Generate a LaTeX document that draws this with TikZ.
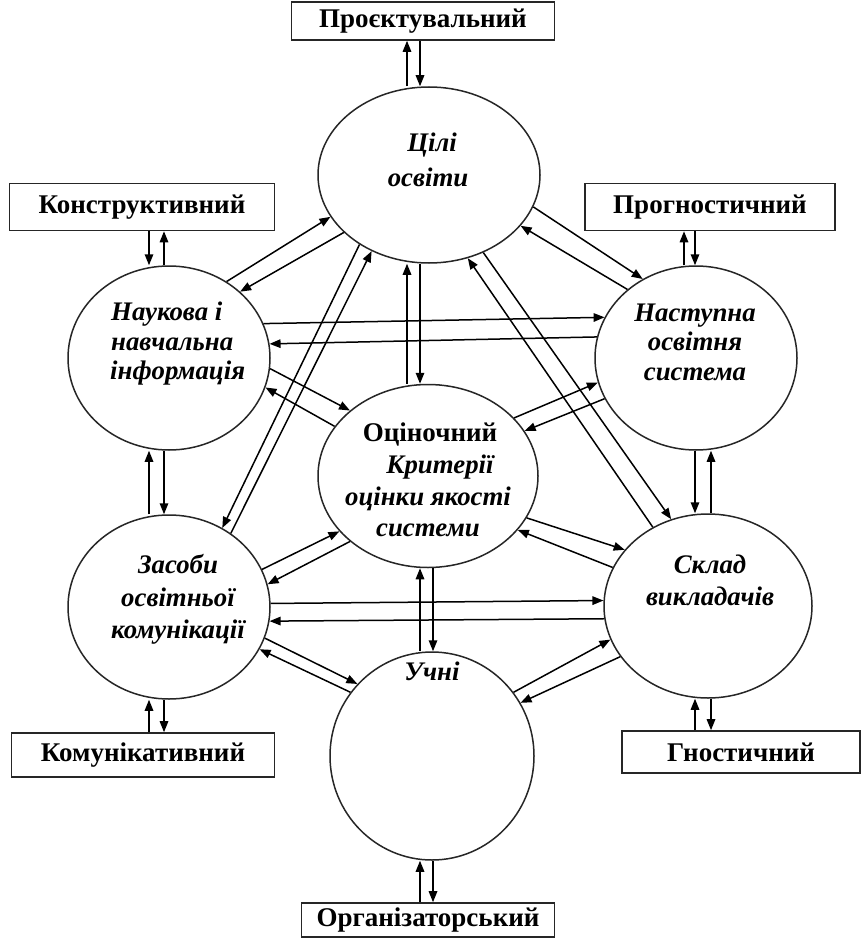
\documentclass[tikz,border=0pt]{standalone}
\usepackage{fontspec}
\setmainfont{Liberation Serif}
\usetikzlibrary{arrows.meta,shapes.geometric}
\begin{document}
\begin{tikzpicture}[x=1pt,y=-1pt,
  ell/.style={draw=black!85, line width=1.5pt, ellipse, inner sep=0pt},
  rolebox/.style={draw=black!85, line width=1.6pt, rectangle, inner sep=0pt,
    font=\bfseries\fontsize{27}{30}\selectfont},
  itxt/.style={font=\bfseries\itshape\fontsize{26.8}{31}\selectfont, inner sep=0pt, anchor=base},
  btxt/.style={font=\bfseries\fontsize{27}{31}\selectfont, inner sep=0pt, anchor=base},
  link/.style={line width=1.5pt, -{Triangle[length=11pt,width=8.5pt]}},
]
\fill[white] (0,0) rectangle (863,939);
\useasboundingbox (0,0) rectangle (863,939);

% ---- ellipses of the system components ----
\node[ell, minimum width=222pt, minimum height=176pt] (C1) at (429,175) {};
\node[ell, minimum width=202pt, minimum height=184pt] (C2) at (169,358) {};
\node[ell, minimum width=202pt, minimum height=184pt] (C3) at (696,358) {};
\node[ell, minimum width=220pt, minimum height=183pt] (C4) at (428,476) {};
\node[ell, minimum width=202pt, minimum height=184pt] (C5) at (169,607) {};
\node[ell, minimum width=208pt, minimum height=184pt] (C6) at (708,606) {};
\node[ell, minimum width=204pt, minimum height=208pt] (C7) at (432,756) {};

% ---- texts inside the ellipses ----
\node[itxt] (t1a) at (432,151) {Цілі};
\node[itxt] (t1b) at (428,186) {освіти};

\node[itxt, anchor=base west] (t2a) at (111,320) {Наукова і};
\node[itxt, anchor=base west] (t2b) at (111,350) {навчальна};
\node[itxt, anchor=base west] (t2c) at (110,379) {інформація};

\node[itxt] (t3a) at (695,321) {Наступна};
\node[itxt] (t3b) at (695,350) {освітня};
\node[itxt] (t3c) at (695,380) {система};

\node[btxt] (t4a) at (430,441) {Оціночний};
\node[itxt] (t4b) at (440,473) {Критерії};
\node[itxt] (t4c) at (428,505) {оцінки якості};
\node[itxt] (t4d) at (428,536) {системи};

\node[itxt] (t5a) at (178,573) {Засоби};
\node[itxt] (t5b) at (178,606) {освітньої};
\node[itxt] (t5c) at (178,638) {комунікації};

\node[itxt] (t6a) at (710,573) {Склад};
\node[itxt] (t6b) at (710,605) {викладачів};

\node[itxt] (t7a) at (432,680) {Учні};

% ---- function boxes ----
\node[rolebox, minimum width=263pt, minimum height=38pt] (B1) at (423,21) {Проєктувальний};
\node[rolebox, minimum width=265pt, minimum height=47pt] (B2) at (142,207) {Конструктивний};
\node[rolebox, minimum width=250pt, minimum height=47pt] (B3) at (710,207) {Прогностичний};
\node[rolebox, minimum width=263pt, minimum height=44pt] (B4) at (143,755) {Комунікативний};
\node[rolebox, minimum width=238pt, minimum height=42pt] (B5) at (741,752) {Гностичний};
\node[rolebox, minimum width=253pt, minimum height=34pt] (B6) at (428,920) {Організаторський};

% ---- x positions of the vertical arrow pairs ----
\coordinate (v149) at (149,0);
\coordinate (v164) at (164,0);
\coordinate (v407) at (407,0);
\coordinate (v420) at (420,0);
\coordinate (v433) at (433,0);
\coordinate (v684) at (684,0);
\coordinate (v695) at (695,0);
\coordinate (v711) at (711,0);

% boxes <-> ellipses
\draw[link] (C1.north -| v407) -- (B1.south -| v407);
\draw[link] (B1.south -| v420) -- (C1.north -| v420);
\draw[link] (B2.south -| v149) -- (C2.north -| v149);
\draw[link] (C2.north -| v164) -- (B2.south -| v164);
\draw[link] (C3.north -| v684) -- (B3.south -| v684);
\draw[link] (B3.south -| v695) -- (C3.north -| v695);
\draw[link] (B4.north -| v149) -- (C5.south -| v149);
\draw[link] (C5.south -| v164) -- (B4.north -| v164);
\draw[link] (B5.north -| v695) -- (C6.south -| v695);
\draw[link] (C6.south -| v711) -- (B5.north -| v711);
\draw[link] (B6.north -| v420) -- (C7.south -| v420);
\draw[link] (C7.south -| v433) -- (B6.north -| v433);

% vertical pairs between ellipses
\draw[link] (C5.north -| v149) -- (C2.south -| v149);
\draw[link] (C2.south -| v164) -- (C5.north -| v164);
\draw[link] (C3.south -| v695) -- (C6.north -| v695);
\draw[link] (C6.north -| v711) -- (C3.south -| v711);
\draw[link] (C4.north -| v407) -- (C1.south -| v407);
\draw[link] (C1.south -| v420) -- (C4.north -| v420);
\draw[link] (C7.north -| v420) -- (C4.south -| v420);
\draw[link] (C4.south -| v433) -- (C7.north -| v433);

% oblique and horizontal pairs between ellipses
\draw[link] (C2.53.8) -- (C1.203.3);
\draw[link] (C1.214) -- (C2.43);
\draw[link] (C1.343.2) -- (C3.124.9);
\draw[link] (C3.135.4) -- (C1.331);
\draw[link] (C2.20) -- (C3.156);
\draw[link] (C3.168) -- (C2.8.8);
\draw[link] (C2.354.3) -- (C4.140.8);
\draw[link] (C4.152.9) -- (C2.343.5);
\draw[link] (C4.34.4) -- (C3.194.7);
\draw[link] (C3.204.8) -- (C4.25.8);
\draw[link] (C1.225.4) -- (C5.56.5);
\draw[link] (C5.50.3) -- (C1.233.4);
\draw[link] (C1.305.7) -- (C6.113.8);
\draw[link] (C6.125.7) -- (C1.295.8);
\draw[link] (C5.22.1) -- (C4.212.3);
\draw[link] (C4.220.6) -- (C5.13.5);
\draw[link] (C4.337.6) -- (C6.146.9);
\draw[link] (C6.158.2) -- (C4.329.1);
\draw[link] (C5.2.8) -- (C6.177.8);
\draw[link] (C6.187.7) -- (C5.352.7);
\draw[link] (C5.342.2) -- (C7.136.6);
\draw[link] (C7.142.9) -- (C5.335.1);
\draw[link] (C7.38.9) -- (C6.199.4);
\draw[link] (C6.210.2) -- (C7.31.1);
\end{tikzpicture}
\end{document}
